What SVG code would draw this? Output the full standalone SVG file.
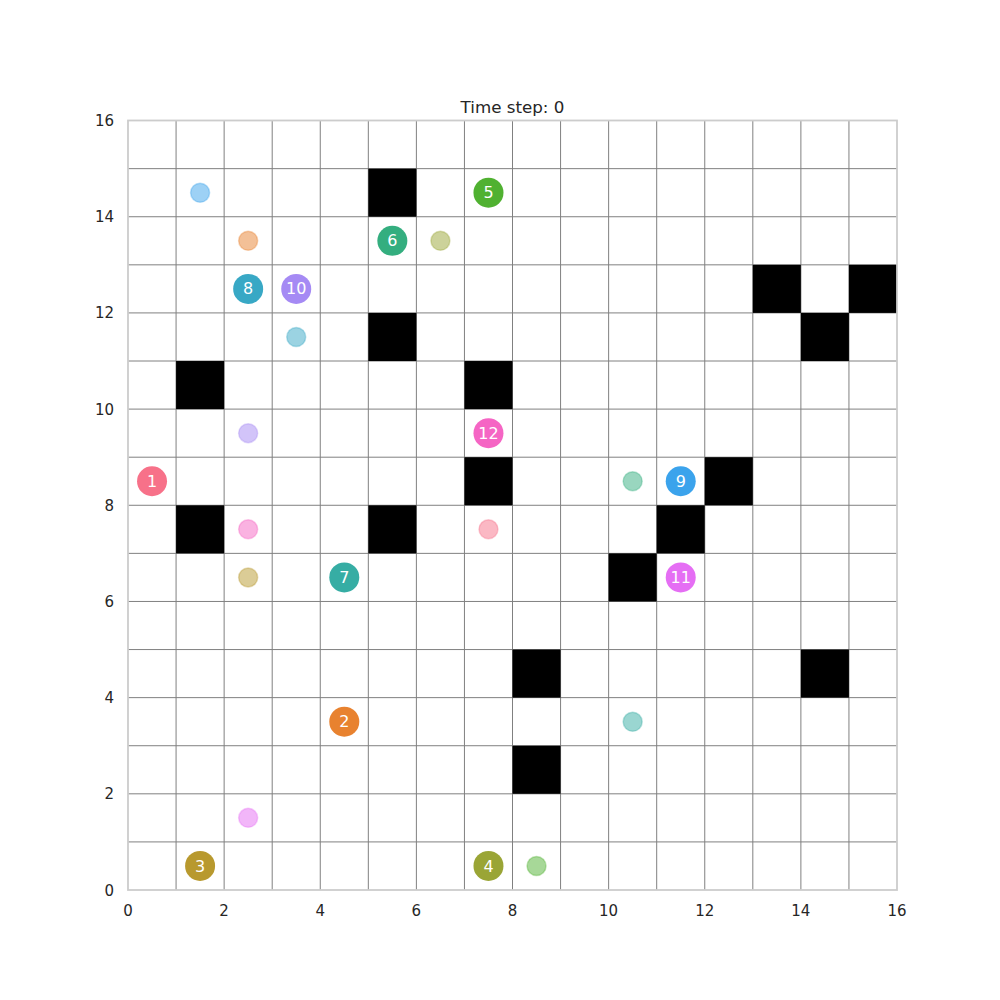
<svg xmlns="http://www.w3.org/2000/svg" width="1000" height="1000" viewBox="0 0 1000 1000">
<style>
.tick{font-family:"DejaVu Sans",sans-serif;font-size:15px;fill:#262626}
.title{font-family:"DejaVu Sans",sans-serif;font-size:16.7px;fill:#262626}
.lab{font-family:"DejaVu Sans",sans-serif;font-size:16px;fill:#ffffff;text-anchor:middle}
.grid line{stroke:#808080;stroke-width:1;vector-effect:non-scaling-stroke}
.goal{stroke-width:1.5;fill-opacity:0.5;stroke-opacity:0.35}
</style>
<rect width="1000" height="1000" fill="#ffffff"/>
<text class="title" x="512.5" y="113" text-anchor="middle">Time step: 0</text>
<g id="grid" class="grid" transform="translate(128,890) scale(48.0625,-48.09)">
<line x1="1" y1="0" x2="1" y2="16"/><line x1="2" y1="0" x2="2" y2="16"/><line x1="3" y1="0" x2="3" y2="16"/><line x1="4" y1="0" x2="4" y2="16"/><line x1="5" y1="0" x2="5" y2="16"/><line x1="6" y1="0" x2="6" y2="16"/><line x1="7" y1="0" x2="7" y2="16"/><line x1="8" y1="0" x2="8" y2="16"/><line x1="9" y1="0" x2="9" y2="16"/><line x1="10" y1="0" x2="10" y2="16"/><line x1="11" y1="0" x2="11" y2="16"/><line x1="12" y1="0" x2="12" y2="16"/><line x1="13" y1="0" x2="13" y2="16"/><line x1="14" y1="0" x2="14" y2="16"/><line x1="15" y1="0" x2="15" y2="16"/>
<line y1="1" x1="0" y2="1" x2="16"/><line y1="2" x1="0" y2="2" x2="16"/><line y1="3" x1="0" y2="3" x2="16"/><line y1="4" x1="0" y2="4" x2="16"/><line y1="5" x1="0" y2="5" x2="16"/><line y1="6" x1="0" y2="6" x2="16"/><line y1="7" x1="0" y2="7" x2="16"/><line y1="8" x1="0" y2="8" x2="16"/><line y1="9" x1="0" y2="9" x2="16"/><line y1="10" x1="0" y2="10" x2="16"/><line y1="11" x1="0" y2="11" x2="16"/><line y1="12" x1="0" y2="12" x2="16"/><line y1="13" x1="0" y2="13" x2="16"/><line y1="14" x1="0" y2="14" x2="16"/><line y1="15" x1="0" y2="15" x2="16"/>
</g>
<g id="obstacles" fill="#000000" transform="translate(128,890) scale(48.0625,-48.09)">
<rect x="5" y="14" width="1" height="1"/>
<rect x="13" y="12" width="1" height="1"/>
<rect x="15" y="12" width="1" height="1"/>
<rect x="5" y="11" width="1" height="1"/>
<rect x="14" y="11" width="1" height="1"/>
<rect x="1" y="10" width="1" height="1"/>
<rect x="7" y="10" width="1" height="1"/>
<rect x="7" y="8" width="1" height="1"/>
<rect x="12" y="8" width="1" height="1"/>
<rect x="1" y="7" width="1" height="1"/>
<rect x="5" y="7" width="1" height="1"/>
<rect x="11" y="7" width="1" height="1"/>
<rect x="10" y="6" width="1" height="1"/>
<rect x="8" y="4" width="1" height="1"/>
<rect x="14" y="4" width="1" height="1"/>
<rect x="8" y="2" width="1" height="1"/>
</g>
<rect id="frame" x="128" y="120.5" width="769" height="769.5" fill="none" stroke="#cccccc" stroke-width="1.8"/>
<g id="ticks" class="tick">
<g text-anchor="middle">
<text x="128" y="916">0</text><text x="224.13" y="916">2</text><text x="320.25" y="916">4</text><text x="416.38" y="916">6</text><text x="512.5" y="916">8</text><text x="608.63" y="916">10</text><text x="704.75" y="916">12</text><text x="800.88" y="916">14</text><text x="897" y="916">16</text>
</g>
<g text-anchor="end">
<text x="114" y="895.5">0</text><text x="114" y="799.3">2</text><text x="114" y="703.1">4</text><text x="114" y="607">6</text><text x="114" y="510.8">8</text><text x="114" y="414.6">10</text><text x="114" y="318.4">12</text><text x="114" y="222.2">14</text><text x="114" y="126">16</text>
</g>
</g>
<g id="goals" class="goal">
<circle id="goal1" cx="488.47" cy="529.33" r="9.5" fill="#f77189" stroke="#f77189"/>
<circle id="goal2" cx="248.16" cy="240.79" r="9.5" fill="#e8822f" stroke="#e8822f"/>
<circle id="goal3" cx="248.16" cy="577.42" r="9.5" fill="#b8992e" stroke="#b8992e"/>
<circle id="goal4" cx="440.41" cy="240.79" r="9.5" fill="#9aa536" stroke="#9aa536"/>
<circle id="goal5" cx="536.53" cy="865.96" r="9.5" fill="#50b131" stroke="#50b131"/>
<circle id="goal6" cx="632.66" cy="481.24" r="9.5" fill="#34ae7f" stroke="#34ae7f"/>
<circle id="goal7" cx="632.66" cy="721.69" r="9.5" fill="#36ada4" stroke="#36ada4"/>
<circle id="goal8" cx="296.22" cy="336.97" r="9.5" fill="#38a8c5" stroke="#38a8c5"/>
<circle id="goal9" cx="200.09" cy="192.70" r="9.5" fill="#3ba3ec" stroke="#3ba3ec"/>
<circle id="goal10" cx="248.16" cy="433.15" r="9.5" fill="#a58af4" stroke="#a58af4"/>
<circle id="goal11" cx="248.16" cy="817.87" r="9.5" fill="#e56ef4" stroke="#e56ef4"/>
<circle id="goal12" cx="248.16" cy="529.33" r="9.5" fill="#f565c4" stroke="#f565c4"/>
</g>
<g id="agent1"><circle cx="152.03" cy="481.24" r="15" fill="#f77189"/><text class="lab" x="152.03" y="486.8">1</text></g>
<g id="agent2"><circle cx="344.28" cy="721.69" r="15" fill="#e8822f"/><text class="lab" x="344.28" y="727.3">2</text></g>
<g id="agent3"><circle cx="200.09" cy="865.96" r="15" fill="#b8992e"/><text class="lab" x="200.09" y="871.5">3</text></g>
<g id="agent4"><circle cx="488.47" cy="865.96" r="15" fill="#9aa536"/><text class="lab" x="488.47" y="871.5">4</text></g>
<g id="agent5"><circle cx="488.47" cy="192.70" r="15" fill="#50b131"/><text class="lab" x="488.47" y="198.3">5</text></g>
<g id="agent6"><circle cx="392.34" cy="240.79" r="15" fill="#34ae7f"/><text class="lab" x="392.34" y="246.4">6</text></g>
<g id="agent7"><circle cx="344.28" cy="577.42" r="15" fill="#36ada4"/><text class="lab" x="344.28" y="583.0">7</text></g>
<g id="agent8"><circle cx="248.16" cy="288.88" r="15" fill="#38a8c5"/><text class="lab" x="248.16" y="294.4">8</text></g>
<g id="agent9"><circle cx="680.72" cy="481.24" r="15" fill="#3ba3ec"/><text class="lab" x="680.72" y="486.8">9</text></g>
<g id="agent10"><circle cx="296.22" cy="288.88" r="15" fill="#a58af4"/><text class="lab" x="296.22" y="294.4">10</text></g>
<g id="agent11"><circle cx="680.72" cy="577.42" r="15" fill="#e56ef4"/><text class="lab" x="680.72" y="583.0">11</text></g>
<g id="agent12"><circle cx="488.47" cy="433.15" r="15" fill="#f565c4"/><text class="lab" x="488.47" y="438.7">12</text></g>
</svg>
